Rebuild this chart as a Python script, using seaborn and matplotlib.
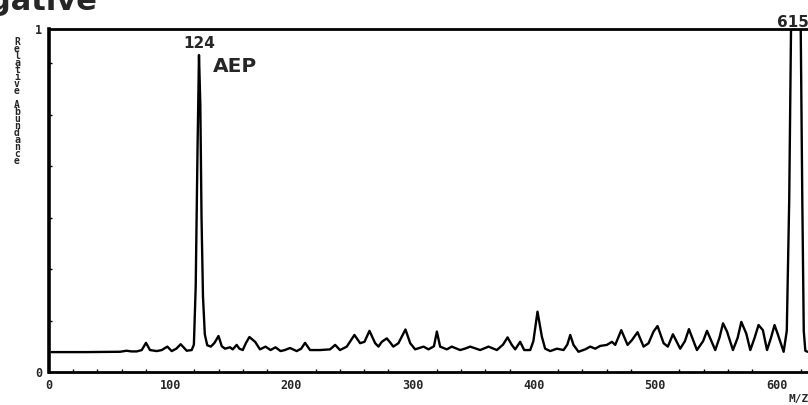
import matplotlib
matplotlib.use("Agg")
import matplotlib.pyplot as plt
import seaborn as sns
import pandas as pd
from matplotlib.ticker import MultipleLocator

# Profile of the negative-ion spectrum: m/z positions and relative abundance
mz = [2, 30, 58.6, 64, 68, 72.4, 76.5, 80, 83.3, 88.9, 93, 97.6, 101.2, 105,
      108.6, 113.6, 117.7, 119.5, 121, 122.5, 123.7, 124.8, 125.8, 127, 128.5,
      130.5, 133.5, 136.5, 139.8, 142.5, 145.2, 149.3, 151.5, 154.8, 157, 159.8,
      162.5, 165.3, 170, 174, 178.6, 182.7, 186.8, 191, 194.5, 198.8, 204.3, 208,
      211.2, 215.3, 223.6, 231.8, 236, 240, 245.6, 251.9, 256.6, 260.2, 264.3,
      269, 271.7, 274.5, 278.6, 281.4, 284, 288.2, 294, 297.9, 302, 308.9, 313,
      317.5, 319.9, 322.6, 328.1, 332.2, 339.1, 343, 347.4, 355.6, 362.5, 369.4,
      374.5, 378.2, 381.7, 384.5, 388.6, 391.9, 396.9, 399.5, 402.9, 406.5,
      409.2, 413.4, 418.9, 424.4, 427.5, 429.9, 432.6, 436.7, 442.2, 446.4,
      450.5, 454.6, 460.1, 464.3, 467, 472, 477.2, 480.8, 485.4, 490.4, 494.5,
      498.6, 501.9, 506.9, 510.4, 514.6, 520.6, 524.5, 527.8, 534.4, 539.5,
      542.7, 549.5, 553, 555.9, 559.2, 564.1, 568, 571, 575.1, 578.4, 582, 585.2,
      588.8, 592.2, 595.5, 598.4, 600.9, 605.9, 608.5, 610.5, 612, 620, 621.3,
      622.5, 623.8, 625.5]
abundance = [0.058, 0.058, 0.059, 0.062, 0.060, 0.060, 0.064, 0.085, 0.064, 0.061,
             0.064, 0.074, 0.061, 0.068, 0.081, 0.062, 0.064, 0.080, 0.250, 0.650,
             0.924, 0.780, 0.450, 0.220, 0.110, 0.078, 0.074, 0.085, 0.105, 0.075,
             0.068, 0.072, 0.066, 0.079, 0.068, 0.064, 0.085, 0.102, 0.088, 0.066,
             0.074, 0.064, 0.072, 0.061, 0.064, 0.070, 0.061, 0.068, 0.085, 0.064,
             0.064, 0.066, 0.079, 0.064, 0.074, 0.108, 0.084, 0.088, 0.120, 0.084,
             0.074, 0.088, 0.098, 0.086, 0.074, 0.084, 0.124, 0.084, 0.066, 0.074,
             0.066, 0.075, 0.118, 0.074, 0.066, 0.074, 0.064, 0.068, 0.074, 0.064,
             0.074, 0.064, 0.080, 0.101, 0.079, 0.066, 0.088, 0.064, 0.064, 0.090,
             0.176, 0.103, 0.068, 0.061, 0.068, 0.064, 0.080, 0.108, 0.079, 0.059,
             0.066, 0.074, 0.068, 0.076, 0.079, 0.088, 0.079, 0.122, 0.079, 0.093,
             0.116, 0.074, 0.084, 0.118, 0.134, 0.084, 0.074, 0.110, 0.068, 0.090,
             0.125, 0.064, 0.090, 0.120, 0.064, 0.100, 0.142, 0.118, 0.064, 0.100,
             0.146, 0.112, 0.064, 0.100, 0.137, 0.122, 0.064, 0.100, 0.137, 0.112,
             0.059, 0.120, 0.500, 1.000, 1.000, 0.500, 0.120, 0.062, 0.059]

# Annotated peaks
peak_labels = ["124", "615"]
peak_mz = [123.8, 613.9]
peak_y = [0.945, 1.006]
compound_label = "AEP"

x_ticks = [0, 100, 200, 300, 400, 500, 600]
y_ticks = [0, 1]
y_title = "Relative Abundance"

sns.set_theme(style="white")
plt.rcParams["font.family"] = ["DejaVu Sans"]

fig = plt.figure(figsize=(8.08, 4.05), dpi=100)
ax = fig.add_axes([49 / 808, 33 / 405, (808 - 49) / 808, (372 - 29) / 405])

df = pd.DataFrame({"mz": mz, "abundance": abundance})
sns.lineplot(data=df, x="mz", y="abundance", sort=False, estimator=None,
             color="black", linewidth=1.7, ax=ax)

ax.set_xlim(0, 626)
ax.set_ylim(0, 1)
ax.set_xlabel("")
ax.set_ylabel("")

for side in ["left", "top", "bottom"]:
    ax.spines[side].set_visible(True)
    ax.spines[side].set_color("black")
ax.spines["left"].set_linewidth(2.6)
ax.spines["top"].set_linewidth(2.0)
ax.spines["bottom"].set_linewidth(2.0)
ax.spines["right"].set_visible(False)

mono_bold = {"family": "DejaVu Sans Mono", "weight": "bold"}
ax.set_xticks(x_ticks)
ax.set_xticklabels([str(t) for t in x_ticks], fontdict=mono_bold, fontsize=8.5)
ax.set_yticks(y_ticks)
ax.set_yticklabels([str(t) for t in y_ticks], fontdict=mono_bold, fontsize=8.5)
ax.tick_params(axis="x", length=0, pad=5)
ax.tick_params(axis="y", length=0, pad=5)
ax.xaxis.set_minor_locator(MultipleLocator(20))
ax.yaxis.set_minor_locator(MultipleLocator(0.15))
ax.tick_params(which="minor", direction="in", length=2.5, width=1.0,
               color="black", bottom=True, left=True)

# Peak annotations
for lab, x, y in zip(peak_labels, peak_mz, peak_y):
    ax.text(x, y, lab, ha="center", va="baseline", fontsize=11,
            fontweight="bold", clip_on=False)
ax.text(135.3, 0.875, compound_label, ha="left", va="baseline", fontsize=14.5,
        fontweight="bold")

# Vertical axis title: upright letters stacked one under another
for i, ch in enumerate(y_title):
    if ch == " ":
        continue
    fig.text(17 / 808, 1 - (42 + 7 * i) / 405, ch, ha="center", va="center",
             fontsize=7, fontweight="bold", family="DejaVu Sans Mono")

fig.text(799 / 808, 1 - 394 / 405, "M/Z", ha="center", va="top",
         fontsize=8, fontweight="bold", family="DejaVu Sans Mono")

# Heading running off the top edge
fig.text(97 / 808, 1 - 10 / 405, "Negative", ha="right", va="baseline",
         fontsize=22, fontweight="bold")

fig.savefig("out.png", dpi=100)
